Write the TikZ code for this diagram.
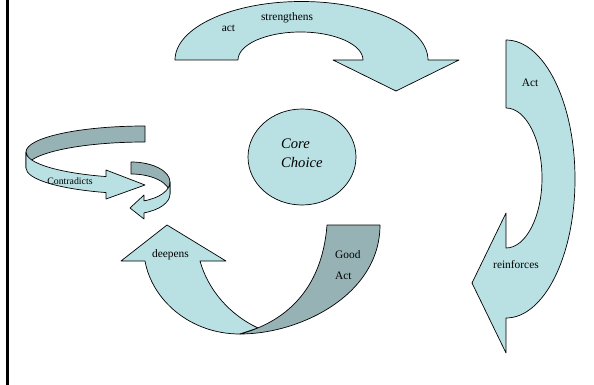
\documentclass[tikz,border=0pt]{standalone}
\usepackage{fontspec}
\setmainfont{Liberation Serif}
\definecolor{lightc}{RGB}{185,224,227}
\definecolor{darkc}{RGB}{151,178,181}
\begin{document}
\begin{tikzpicture}[x=1pt,y=-1pt,
  lightband/.style={fill=lightc,draw=black,line width=0.7pt,line join=round},
  darkband/.style={fill=darkc,draw=black,line width=0.7pt,line join=round},
  lbl/.style={inner sep=0pt,font=\fontsize{11.4}{13}\selectfont},
  small/.style={inner sep=0pt,font=\fontsize{9.8}{12}\selectfont}]
\fill[white] (0,0) rectangle (594,385);
\useasboundingbox (0,0) rectangle (594,385);
% left border
\draw[line width=2.6pt] (7.5,0) -- (7.5,385);

% top arrow (strengthens)
\path[lightband] (175,60) arc[start angle=180,end angle=360,x radius=126.5,y radius=58.5]
  -- (459,60) -- (396,91) -- (333,60) -- (363,60)
  arc[start angle=0,end angle=-180,x radius=62.5,y radius=28] -- cycle;

% right arrow (reinforces)
\path[lightband] (506,40) arc[start angle=-90,end angle=90,x radius=69,y radius=139]
  -- (506,353) -- (472,283) -- (506,213) -- (506,248)
  arc[start angle=90,end angle=-90,x radius=36,y radius=70] -- cycle;

% core circle
\path[lightband] (302,157) ellipse[x radius=54,y radius=48];

% bottom arrow (deepens / good act)
\path[lightband] (145,261) .. controls (152,300) and (190,334) .. (240,334)
  -- (258,328) .. controls (230,315) and (208,290) .. (200,261)
  -- (226,261) -- (167,225) -- (121,261) -- cycle;
\path[darkband] (380,225) .. controls (380,295) and (300,334) .. (240,334)
  .. controls (285,322) and (322,290) .. (327,225) -- cycle;

% contradicts ribbon (large)
\path[darkband] (145,126) arc[start angle=-90,end angle=-180,x radius=119,y radius=26]
  -- (26,168) arc[start angle=180,end angle=270,x radius=119,y radius=26] -- cycle;
\path[lightband] (26,152) arc[start angle=180,end angle=109.1,x radius=119,y radius=26]
  -- (106,170) -- (145,185) -- (106,199)
  -- ([shift={(145,168)}]109.1:119 and 26)
  arc[start angle=109.1,end angle=180,x radius=119,y radius=26] -- cycle;

% contradicts ribbon (small)
\path[darkband] (131,162) arc[start angle=-90,end angle=0,x radius=39,y radius=20]
  -- (170,194) arc[start angle=0,end angle=-90,x radius=39,y radius=20] -- cycle;
\path[lightband] (170,182) arc[start angle=0,end angle=70.5,x radius=39,y radius=20]
  -- (144,195) -- (130,208) -- (144,219)
  -- ([shift={(131,194)}]70.5:39 and 20)
  arc[start angle=70.5,end angle=0,x radius=39,y radius=20] -- cycle;

% labels
\node[lbl] (act1) at (228.5,28) {act};
\node[lbl] (str) at (287,18) {strengthens};
\node[lbl] (act2) at (530,83) {Act};
\node[lbl] (rein) at (516,265) {reinforces};
\node[lbl] (deep) at (170.5,255) {deepens};
\node[lbl,anchor=west,align=left,font=\fontsize{11.4}{21}\selectfont] (good) at (335,265.5) {Good\\Act};
\node[small] (contra) at (70,181) {Contradicts};
\node[inner sep=0pt,anchor=west,align=left,font=\fontsize{14.6}{19}\selectfont\itshape] (core) at (281,153.5) {Core\\Choice};
\end{tikzpicture}
\end{document}
